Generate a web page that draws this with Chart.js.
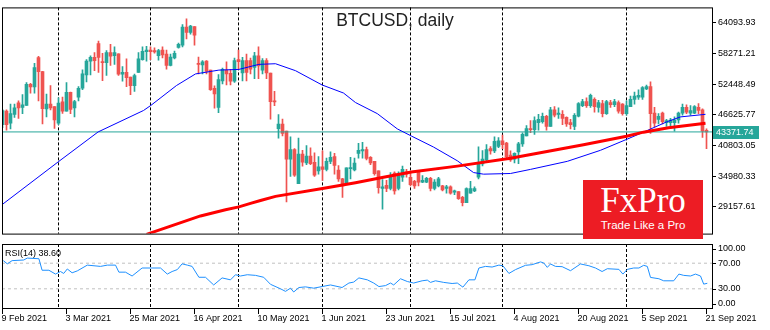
<!DOCTYPE html>
<html>
<head>
<meta charset="utf-8">
<script src="https://cdn.jsdelivr.net/npm/chart.js@4.4.1/dist/chart.umd.min.js"></script>
<style>
  html, body { margin: 0; padding: 0; background: #fff; }
  #wrap { position: relative; width: 770px; height: 330px; overflow: hidden; background: #fff; }
  canvas { position: absolute; left: 0; }
  #main { top: 0; }
  #rsi { top: 241px; }
  .title { position: absolute; left: 0; top: 9px; width: 790px; text-align: center;
           font: 17.5px 'Liberation Sans', Arial, sans-serif; color: #222; line-height: 22px; }
  .rsi-label { position: absolute; left: 5px; top: 248px; font: 9px 'Liberation Sans', Arial, sans-serif;
               color: #000; line-height: 11px; }
  .logo { position: absolute; left: 583px; top: 180px; width: 120px; height: 59px; background: #ed1c24; color: #fff; }
  .logo .brand { position: absolute; left: 0; top: 3px; width: 120px; text-align: center;
                 font: 35px 'Liberation Serif', 'Times New Roman', serif; line-height: 35px; }
  .logo .tag { position: absolute; left: 0; top: 38px; width: 120px; text-align: center;
               font: 11.5px 'Liberation Sans', Arial, sans-serif; line-height: 14px; }
</style>
</head>
<body>
<div id="wrap">
  <canvas id="main" width="770" height="241"></canvas>
  <canvas id="rsi" width="770" height="89"></canvas>
  <div class="title">BTCUSD, daily</div>
  <div class="rsi-label">RSI(14) 38.60</div>
  <div class="logo"><div class="brand">FxPro</div><div class="tag">Trade Like a Pro</div></div>
</div>
<script>
// ---- daily bars, 9 Feb 2021 .. 21 Sep 2021 (bar index 0..176) ----
const dateLabels = ['9 Feb 2021', '3 Mar 2021', '25 Mar 2021', '16 Apr 2021', '10 May 2021', '1 Jun 2021',
                    '23 Jun 2021', '15 Jul 2021', '4 Aug 2021', '20 Aug 2021', '5 Sep 2021', '21 Sep 2021'];
const dateLabelIdx = [0, 16, 32, 48, 64, 80, 96, 112, 128, 144, 160, 176];
// first bar of each month (Mar .. Sep)
const monthStartIdx = [14, 37, 59, 80, 102, 125, 156];

const open = [
  44730, 47320, 45040, 46720, 48900, 48050, 48410, 52410, 51930, 57490,
  54840, 47760, 48670, 48180, 45040, 49080, 47320, 50900, 47940, 49990,
  51680, 54220, 56830, 57560, 60160, 56760, 56530, 58470, 57850, 58210,
  54350, 54710, 53800, 52170, 54710, 57120, 58650, 58940, 58830, 57850,
  58940, 58160, 56040, 57430, 59430, 59850, 63300, 62280, 63420, 56400,
  56110, 56830, 55130, 51680, 48050, 53080, 55130, 54530, 53020, 57120,
  54580, 56940, 56940, 55620, 57850, 55130, 56940, 54580, 49270, 44000,
  44860, 43510, 38190, 40010, 33530, 39160, 37470, 38790, 37600, 35960,
  36740, 36250, 37780, 38680, 36140, 34440, 33530, 36380, 36140, 39280,
  39770, 40010, 38560, 37780, 35960, 32620, 33240, 32620, 35530, 32620,
  34750, 35780, 34750, 33970, 35780, 33840, 33840, 34560, 32620, 33110,
  33110, 32620, 32930, 31900, 32020, 30930, 29900, 31710, 32150, 34750,
  37290, 38070, 40190, 39770, 40610, 41700, 41230, 38970, 38190, 39590,
  41100, 42600, 43950, 43820, 45150, 45330, 46360, 44420, 47580, 46720,
  46720, 46130, 45150, 44420, 46360, 48360, 49140, 48360, 49570, 48050,
  48780, 46850, 48960, 48540, 48960, 48670, 46850, 48180, 49570, 49990,
  49990, 51570, 51990, 46960, 45760, 46960, 45150, 45150, 45150, 45640,
  46960, 48050, 46960, 46960, 48050, 47580, 43690
];
const high = [
  47630, 47580, 48670, 48670, 49270, 50480, 52770, 52590, 56400, 57740,
  54890, 50590, 52170, 48180, 49860, 49990, 52770, 50950, 49390, 51990,
  55200, 57120, 57850, 58470, 60650, 58340, 58830, 60030, 59560, 58210,
  55800, 57250, 53800, 54350, 58470, 59560, 59670, 59560, 59380, 59070,
  59560, 58940, 58160, 58760, 60280, 63790, 64870, 63660, 63420, 57610,
  56940, 56940, 55130, 52120, 54290, 55490, 56710, 55260, 57430, 58940,
  57560, 58160, 57430, 58520, 59560, 57310, 57310, 54580, 51080, 46670,
  45820, 43510, 42420, 40190, 42190, 39880, 40790, 40370, 39410, 38680,
  39770, 38380, 39590, 39280, 36980, 34560, 36560, 38560, 38380, 41220,
  41410, 40500, 38680, 37780, 35960, 34330, 34150, 35650, 35780, 35780,
  36870, 36250, 35650, 34150, 35960, 35050, 34750, 34750, 34330, 34750,
  33240, 33240, 33110, 32330, 32020, 31120, 32750, 33970, 32930, 40550,
  39830, 40970, 40610, 42420, 42310, 42790, 41410, 39770, 39410, 41410,
  43220, 44600, 45510, 46230, 46720, 46960, 46540, 48050, 48180, 47940,
  47450, 46230, 45760, 46850, 48960, 49570, 49860, 50590, 49860, 49390,
  49390, 49390, 49390, 49570, 49270, 48780, 49270, 50170, 50950, 51390,
  51990, 52300, 52900, 48050, 46850, 47140, 45760, 45940, 46230, 47140,
  48670, 48540, 48360, 48360, 48780, 47760, 43950
];
const low = [
  44180, 43690, 43950, 46130, 45940, 46850, 48410, 50720, 50720, 49270,
  44910, 46230, 47580, 44060, 44730, 46910, 47320, 46850, 46230, 49270,
  51390, 52900, 54220, 55020, 54710, 53130, 54110, 56040, 56220, 54110,
  53020, 51990, 50480, 51080, 54710, 57020, 56830, 57120, 58340, 57020,
  57430, 55310, 55930, 57250, 59300, 59560, 61060, 61970, 59850, 54400,
  54400, 54400, 51260, 47870, 47030, 52480, 52300, 52300, 52770, 55310,
  53080, 53080, 54400, 53490, 53490, 54400, 53490, 45820, 48360, 42190,
  42600, 30080, 34930, 34930, 33530, 36870, 37160, 37160, 34930, 35350,
  34150, 35960, 37340, 35350, 33970, 30930, 33530, 34440, 35960, 38380,
  38380, 38070, 37160, 35160, 31710, 28700, 32020, 32330, 31530, 32330,
  33970, 34750, 33110, 32620, 33110, 33710, 33710, 32150, 32330, 32930,
  32150, 31710, 31530, 31420, 30520, 29300, 29900, 31710, 32020, 34440,
  36920, 37780, 39160, 39410, 40370, 40190, 38380, 37780, 37470, 37340,
  40610, 42600, 43220, 42910, 43690, 45040, 43690, 44420, 46230, 45940,
  44730, 44420, 43950, 43820, 46230, 48180, 48050, 48050, 47140, 47140,
  46230, 46720, 48050, 48180, 46960, 46540, 46540, 48180, 48670, 49570,
  49570, 51390, 43090, 44310, 44910, 44910, 44420, 44550, 43510, 45040,
  46540, 46850, 46540, 46850, 46850, 42310, 40190
];
const close = [
  47450, 44730, 46850, 47940, 47940, 48540, 52410, 51930, 55620, 54840,
  47810, 48670, 47940, 45640, 48850, 47320, 50900, 47630, 49140, 51680,
  54400, 56830, 57560, 56940, 57560, 56530, 58470, 57800, 58470, 54350,
  54710, 53680, 52170, 54110, 57250, 58700, 58940, 58650, 58580, 58830,
  58030, 56040, 57610, 58340, 60030, 63300, 62280, 63480, 61790, 56220,
  56710, 54890, 51390, 50590, 53310, 55260, 54400, 53020, 56940, 56710,
  56940, 54710, 55310, 57850, 55930, 56940, 54580, 49140, 49080, 44860,
  43090, 38190, 40010, 35160, 39160, 37600, 38790, 37340, 35160, 36740,
  36250, 37780, 38560, 36980, 34440, 33110, 36560, 36560, 37470, 39880,
  40010, 38320, 37470, 35420, 32750, 32930, 32620, 34750, 32150, 35340,
  36250, 35340, 33350, 33110, 33840, 34150, 34560, 32620, 33840, 34440,
  32330, 32930, 31710, 32150, 30700, 29900, 32620, 32620, 32620, 37470,
  38190, 40010, 39770, 41590, 41700, 40970, 38680, 38070, 39280, 41100,
  42910, 44000, 43820, 45510, 45760, 46360, 44420, 47580, 46540, 46960,
  45940, 44910, 44730, 46540, 48780, 49140, 48360, 50350, 48180, 48960,
  46850, 49140, 48540, 49140, 47320, 46850, 48360, 49570, 50170, 50350,
  51810, 51990, 46850, 45040, 46360, 45330, 45510, 45640, 45640, 46960,
  48050, 47140, 47450, 48180, 47450, 43510, 43371.74
];
const lastPrice = 43371.74;
const priceTicks = [29157.61, 34980.33, 40803.05, 46625.77, 52448.49, 58271.21, 64093.93];

// moving averages (bar index, value)
const ma50Idx = [0, 14.1, 23.9, 35.25, 37.1, 43.5, 48.25, 54.1, 59.1, 64.1, 68.25, 73.25, 79.9, 85.25, 88.25,
                 93.7, 98.7, 102.2, 107.75, 113.7, 117.75, 120.25, 127, 132, 141.2, 149.5, 156.2, 160.25, 166.2, 169.5, 175.75];
const ma50Val = [29610, 37780, 43370, 47450, 48420, 52200, 54400, 55130, 55260, 56220, 56340, 55020, 52300, 50770, 48960,
                 46850, 43950, 42600, 40500, 37890, 35650, 35340, 35470, 36250, 37780, 39880, 42010, 43330, 45330, 46230, 46720];
const ma200Idx = [36, 49.5, 55.75, 59.1, 62, 64.5, 68.25, 80, 88.25, 95.25, 102.2, 113.7, 127, 132.75, 145.25, 156, 160.25, 166.5, 175.75];
const ma200Val = [23900, 27400, 28570, 29120, 29790, 30340, 31120, 32620, 33710, 34750, 35740, 36870, 38380, 39190, 40920, 42550, 43330, 44150, 45040];

// RSI(14)
const rsiIdx = [0.2, 1.2, 2.4, 5.3, 6.2, 9.1, 9.9, 11.6, 13.25, 14.5, 15.3, 16.2, 17.4, 18.7, 21.2, 24.5, 26.2, 28.25, 29.1,
  30.75, 32.4, 34.9, 39.5, 41.2, 42.4, 43.7, 44.9, 46.2, 47.4, 49.1, 50.75, 52.8, 54.9, 57, 58.25, 59.5, 61.2, 63.25, 65.3,
  67, 69.5, 70.75, 72, 72.8, 74.1, 75.75, 77.8, 79.9, 82, 84.9, 86.6, 87.8, 89.1, 91.2, 92.8, 94.1, 95.75, 97, 97.8, 99.5,
  101.2, 102.8, 104.9, 106.2, 107, 108.25, 110.3, 112.4, 113.7, 115.1, 116.6, 118.1, 119.1, 120.75, 122.4, 124.1, 125.1,
  126.6, 128.25, 130.75, 132.4, 134.5, 135.3, 136.2, 137, 138.25, 139.9, 142, 144.5, 146.6, 148.25, 149.9, 151.2, 154.1,
  155.1, 156.2, 157.8, 159.1, 160.3, 161.2, 162, 164.1, 165.3, 167.8, 169.1, 170.3, 172, 173.25, 174.5, 175.3, 176.2];
const rsiVal = [74, 69, 74, 75, 78, 77, 59, 59, 53, 57, 54, 61, 55, 58, 67, 65, 67, 67, 56,
  56, 50, 62.5, 62.5, 53, 57, 60, 69, 67, 65, 48, 48, 36, 47, 44, 52, 50, 52, 51, 48,
  37, 30, 26, 31, 25, 32, 33, 31, 33.5, 36, 32, 39, 40.5, 47, 44, 39, 33.5, 35, 39, 36, 45.7,
  41.4, 39, 42.5, 43.6, 40, 42.5, 40, 38.3, 39, 32.6, 44, 44, 62.5, 65, 64, 67, 66,
  54, 60, 66.7, 67.7, 72, 70.4, 63.5, 68.8, 65, 64.6, 58.3, 68.8, 66, 62.5, 57, 61.4, 60.4,
  53, 60.4, 62.5, 62.5, 66.7, 65, 47.8, 45.7, 42.5, 42.5, 53, 51, 50, 53, 50, 37.3, 38.6];
const rsiLevels = [30, 70];
const rsiTicks = [0, 30, 70, 100];

// ---- styling ----
const UP = '#26a69a', DOWN = '#ef5350';
const X_MIN = -0.125, X_MAX = 177.375;      // 4 px per bar
const AXIS_FONT = { family: "'Liberation Sans', Arial, sans-serif", size: 9 };
Chart.defaults.font.family = AXIS_FONT.family;
Chart.defaults.font.size = 9;

const barIdx = open.map((_, i) => i);
const barColor = barIdx.map(i => (close[i] >= open[i] ? UP : DOWN));

const framePlugin = {
  id: 'frame',
  afterDraw(chart) {
    const { ctx, chartArea: a } = chart;
    ctx.save();
    ctx.strokeStyle = '#000';
    ctx.lineWidth = 1;
    ctx.strokeRect(a.left + 0.5, a.top + 0.5, a.right - a.left, a.bottom - a.top);
    ctx.restore();
  }
};

const separatorPlugin = {
  id: 'separators',
  beforeDatasetsDraw(chart) {
    const { ctx, chartArea: a, scales: { x } } = chart;
    ctx.save();
    ctx.strokeStyle = '#000';
    ctx.lineWidth = 1;
    ctx.setLineDash([3, 2]);
    monthStartIdx.forEach(i => {
      const px = Math.floor(x.getPixelForValue(i)) + 0.5;
      ctx.beginPath();
      ctx.moveTo(px, a.top);
      ctx.lineTo(px, a.bottom);
      ctx.stroke();
    });
    ctx.restore();
  }
};

const priceTagPlugin = {
  id: 'priceTag',
  afterDraw(chart) {
    const { ctx, scales: { y } } = chart;
    const py = Math.round(y.getPixelForValue(lastPrice));
    ctx.save();
    ctx.fillStyle = UP;
    ctx.fillRect(713, py - 6, 46, 13);
    ctx.fillStyle = '#fff';
    ctx.font = "9px 'Liberation Sans', Arial, sans-serif";
    ctx.textBaseline = 'middle';
    ctx.fillText(lastPrice.toFixed(2), 716, py + 0.5);
    ctx.restore();
  }
};

const rsiAxisPlugin = {
  id: 'rsiAxis',
  afterDraw(chart) {
    const { ctx, chartArea: a, scales: { y } } = chart;
    ctx.save();
    ctx.fillStyle = '#000';
    ctx.strokeStyle = '#000';
    ctx.font = "9px 'Liberation Sans', Arial, sans-serif";
    ctx.textBaseline = 'middle';
    rsiTicks.forEach(v => {
      const py = Math.min(Math.max(y.getPixelForValue(v), a.top + 5), a.bottom - 4);
      const ly = Math.round(py) + 0.5;
      ctx.beginPath();
      ctx.moveTo(a.right, ly);
      ctx.lineTo(a.right + 4, ly);
      ctx.stroke();
      ctx.fillText(v.toFixed(2), a.right + 6, py);
    });
    ctx.restore();
  }
};

// ---- price panel ----
new Chart(document.getElementById('main'), {
  type: 'bar',
  data: {
    datasets: [
      { type: 'line', label: 'MA200', data: ma200Idx.map((x, k) => ({ x, y: ma200Val[k] })),
        borderColor: '#ff0000', borderWidth: 3, pointRadius: 0, tension: 0, order: 0 },
      { type: 'line', label: 'MA50', data: ma50Idx.map((x, k) => ({ x, y: ma50Val[k] })),
        borderColor: '#0000ff', borderWidth: 1, pointRadius: 0, tension: 0, order: 1 },
      { type: 'line', label: 'Bid', data: [{ x: X_MIN, y: lastPrice }, { x: X_MAX, y: lastPrice }],
        borderColor: UP, borderWidth: 1, pointRadius: 0, order: 2 },
      { type: 'bar', label: 'Body', data: barIdx.map(i => ({ x: i, y: [open[i], close[i]] })),
        backgroundColor: barColor, barThickness: 3, minBarLength: 1, grouped: false, order: 3 },
      { type: 'bar', label: 'Wick', data: barIdx.map(i => ({ x: i, y: [low[i], high[i]] })),
        backgroundColor: barColor, barThickness: 1, grouped: false, order: 4 }
    ]
  },
  options: {
    responsive: false, animation: false, devicePixelRatio: 1,
    layout: { padding: { left: 2, top: 2, right: 0, bottom: 2 } },
    plugins: { legend: { display: false }, tooltip: { enabled: false } },
    scales: {
      x: { type: 'linear', min: X_MIN, max: X_MAX, display: false, offset: false, grid: { offset: false } },
      y: {
        position: 'right', min: 24039, max: 67052, beginAtZero: false,
        afterFit(s) { s.width = 58; },
        afterBuildTicks(s) { s.ticks = priceTicks.map(v => ({ value: v })); },
        ticks: { callback: v => v.toFixed(2), color: '#000', font: AXIS_FONT, padding: 2 },
        grid: { drawOnChartArea: false, drawTicks: true, tickLength: 4, color: '#000' },
        border: { display: false }
      }
    }
  },
  plugins: [separatorPlugin, framePlugin, priceTagPlugin]
});

// ---- RSI panel ----
new Chart(document.getElementById('rsi'), {
  type: 'line',
  data: {
    datasets: [
      { label: 'RSI', data: rsiIdx.map((x, k) => ({ x, y: rsiVal[k] })),
        borderColor: '#1e90ff', borderWidth: 1, pointRadius: 0, tension: 0, order: 0 },
      ...rsiLevels.map(v => ({ label: 'L' + v, data: [{ x: X_MIN, y: v }, { x: X_MAX, y: v }],
        borderColor: '#c0c0c0', borderWidth: 1, borderDash: [3, 3], pointRadius: 0, order: 1 }))
    ]
  },
  options: {
    responsive: false, animation: false, devicePixelRatio: 1,
    layout: { padding: { left: 2, top: 3, right: 0, bottom: 0 } },
    plugins: { legend: { display: false }, tooltip: { enabled: false } },
    scales: {
      x: {
        type: 'linear', min: X_MIN, max: X_MAX, offset: false,
        afterFit(s) { s.height = 22; },
        afterBuildTicks(s) { s.ticks = dateLabelIdx.map(v => ({ value: v })); },
        ticks: { callback: (v, i) => dateLabels[i], align: 'start', autoSkip: false, maxRotation: 0,
                 color: '#000', font: AXIS_FONT, padding: -1, labelOffset: -1 },
        grid: { drawOnChartArea: false, drawTicks: true, tickLength: 6, color: '#000' },
        border: { display: false }
      },
      y: {
        position: 'right', min: 0, max: 100,
        afterFit(s) { s.width = 58; },
        ticks: { display: false },
        grid: { display: false },
        border: { display: false }
      }
    }
  },
  plugins: [separatorPlugin, framePlugin, rsiAxisPlugin]
});
</script>
</body>
</html>
